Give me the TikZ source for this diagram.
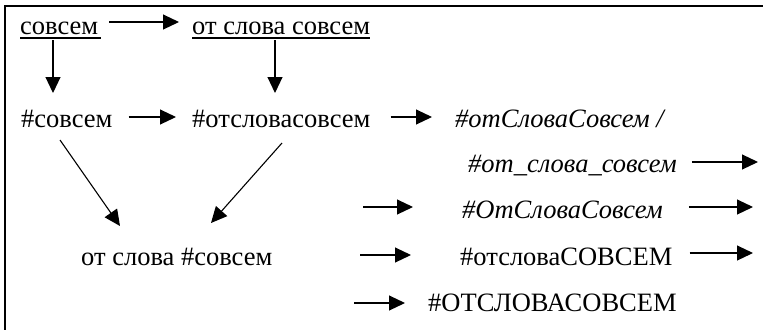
\documentclass[tikz,border=0pt]{standalone}
\usepackage{fontspec}
\setmainfont{Liberation Serif}
\usetikzlibrary{arrows.meta,calc}
\tikzset{
  lbl/.style={inner sep=0pt, anchor=base west, font=\fontsize{26.5}{31}\selectfont},
  ilbl/.style={lbl, font=\fontsize{26.5}{31}\selectfont\itshape},
  arr/.style={line width=1.1pt, -{Triangle[length=16pt,width=15pt]}},
  uline/.style={line width=1.6pt},
  frame/.style={line width=2.3pt, line join=miter}
}
\begin{document}
\begin{tikzpicture}[x=1pt,y=-1pt]
\useasboundingbox (0,0) rectangle (763,330);
\fill[white] (0,0) rectangle (763,330);
\draw[frame] (763,6) -- (5,6) -- (5,330);

\node[lbl] (n1) at (20,34) {совсем};
\node[lbl] (n2) at (192,34) {от слова совсем};
\node[lbl] (n3) at (21,127) {\#совсем};
\node[lbl] (n4) at (192,127) {\#отсловасовсем};
\node[ilbl] (n5) at (455,127) {\#отСловаСовсем /};
\node[ilbl] (n6) at (468,172) {\#от\_слова\_совсем};
\node[ilbl] (n8) at (462,218) {\#ОтСловаСовсем};
\node[lbl] (n7) at (81,265) {от слова \#совсем};
\node[lbl] (n9) at (460,265) {\#отсловаСОВСЕМ};
\node[lbl] (n10) at (428,311) {\#ОТСЛОВАСОВСЕМ};

\coordinate (e8) at (758,162);
\coordinate (s9) at (363,207);
\coordinate (e10) at (753,207);
\coordinate (s11) at (360,255);
\coordinate (e12) at (753,253);
\coordinate (s13) at (354,303);

% underlines
\draw[uline] ($(n1.base west)+(0,3.7)$) -- ($(n1.base east)+(3,3.7)$);
\draw[uline] ($(n2.base west)+(0,3.7)$) -- ($(n2.base east)+(0,3.7)$);

\draw[arr] ($(n1.base east)+(11,-12)$) -- ($(n2.base west)+(-13,-12)$);
\draw[arr] ($(n1.base west)+(33,6)$) -- ($(n3.base west)+(32,-34)$);
\draw[arr] ($(n2.base west)+(83,6)$) -- ($(n4.base west)+(83,-34)$);
\draw[arr] ($(n3.base east)+(16,-10)$) -- ($(n4.base west)+(-16,-10)$);
\draw[arr] ($(n4.base east)+(20,-10)$) -- ($(n5.base west)+(-23,-10)$);
\draw[arr] ($(n3.base west)+(39,13)$) -- ($(n7.base west)+(39,-39)$);
\draw[arr] ($(n4.base west)+(90,16)$) -- ($(n7.base west)+(130,-42)$);
\draw[arr] ($(n6.base east)+(15,-10)$) -- (e8);
\draw[arr] (s9) -- ($(n8.base west)+(-49,-11)$);
\draw[arr] ($(n8.base east)+(26,-11)$) -- (e10);
\draw[arr] (s11) -- ($(n9.base west)+(-49,-10)$);
\draw[arr] ($(n9.base east)+(17,-12)$) -- (e12);
\draw[arr] (s13) -- ($(n10.base west)+(-23,-8)$);
\end{tikzpicture}
\end{document}
